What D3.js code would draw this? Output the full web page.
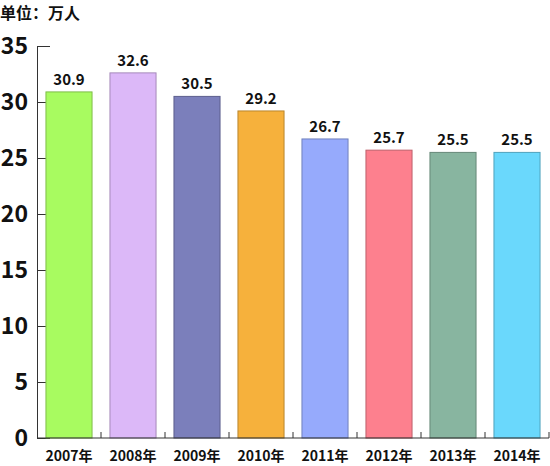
<!DOCTYPE html>
<html>
<head>
<meta charset="utf-8">
<script src="https://cdn.jsdelivr.net/npm/d3@7"></script>
<style>
  body { margin: 0; background: #fff; }
  text { font-family: "Noto Sans CJK SC", "DejaVu Sans", sans-serif; font-weight: bold; fill: #111; }
</style>
</head>
<body>
<script>
// 数据
const years = ["2007年", "2008年", "2009年", "2010年", "2011年", "2012年", "2013年", "2014年"];
const values = [30.9, 32.6, 30.5, 29.2, 26.7, 25.7, 25.5, 25.5];
const barColors = ["#a8fb60", "#dcb8f8", "#7b7fbb", "#f6b13c", "#96aafc", "#fd808e", "#88b5a0", "#6ad8fc"];
const yTicks = [0, 5, 10, 15, 20, 25, 30, 35];

const width = 550, height = 466;
const margin = {top: 46, left: 37, bottom: 28};

const svg = d3.select("body").append("svg")
    .attr("width", width)
    .attr("height", height);

const xscale = d3.scaleBand()
    .domain(years)
    .range([margin.left, margin.left + 64 * years.length])
    .paddingInner(0.28)
    .paddingOuter(0.14);

const yscale = d3.scaleLinear()
    .domain([0, 35])
    .range([height - margin.bottom, margin.top]);

// 单位
svg.append("text")
    .attr("x", 0)
    .attr("y", 19)
    .attr("font-size", "16px")
    .text("单位：万人");

// Y轴
const yaxis = svg.append("g")
    .attr("transform", `translate(${margin.left},0)`)
    .call(d3.axisRight(yscale).tickValues(yTicks).tickSize(13).tickFormat(""));
yaxis.select(".domain").attr("stroke", "#333");
yaxis.selectAll(".tick line").attr("stroke", "#333");

svg.append("g").selectAll("text")
    .data(yTicks)
    .enter()
    .append("text")
    .attr("x", 28)
    .attr("y", d => yscale(d))
    .attr("dy", "0.36em")
    .attr("text-anchor", "end")
    .attr("font-size", "23px")
    .attr("font-family", "'DejaVu Sans', sans-serif")
    .text(d => d);

// 柱子
svg.append("g").selectAll("rect")
    .data(values)
    .enter()
    .append("rect")
    .attr("x", (d, i) => xscale(years[i]))
    .attr("y", d => yscale(d))
    .attr("width", xscale.bandwidth())
    .attr("height", d => yscale(0) - yscale(d))
    .attr("fill", (d, i) => barColors[i])
    .attr("stroke", (d, i) => d3.color(barColors[i]).darker(0.8))
    .attr("stroke-width", 1);

// 数值
svg.append("g").selectAll("text")
    .data(values)
    .enter()
    .append("text")
    .attr("x", (d, i) => xscale(years[i]) + xscale.bandwidth() / 2)
    .attr("y", d => yscale(d) - 7)
    .attr("text-anchor", "middle")
    .attr("font-size", "15px")
    .attr("font-family", "'DejaVu Sans', sans-serif")
    .text(d => d.toFixed(1));

// X轴
const x0 = yscale(0);
svg.append("line")
    .attr("x1", margin.left).attr("x2", xscale.range()[1])
    .attr("y1", x0).attr("y2", x0)
    .attr("stroke", "#333");

svg.append("g").selectAll("line")
    .data(years.slice(1).concat(["end"]))
    .enter()
    .append("line")
    .attr("x1", (d, i) => margin.left + xscale.step() * (i + 1))
    .attr("x2", (d, i) => margin.left + xscale.step() * (i + 1))
    .attr("y1", x0)
    .attr("y2", x0 - 6)
    .attr("stroke", "#333");

svg.append("g").selectAll("text")
    .data(years)
    .enter()
    .append("text")
    .attr("x", d => xscale(d) + xscale.bandwidth() / 2)
    .attr("y", 461)
    .attr("text-anchor", "middle")
    .attr("font-size", "14px")
    .attr("font-family", "'DejaVu Sans', 'Noto Sans CJK SC', sans-serif")
    .text(d => d);
</script>
</body>
</html>
